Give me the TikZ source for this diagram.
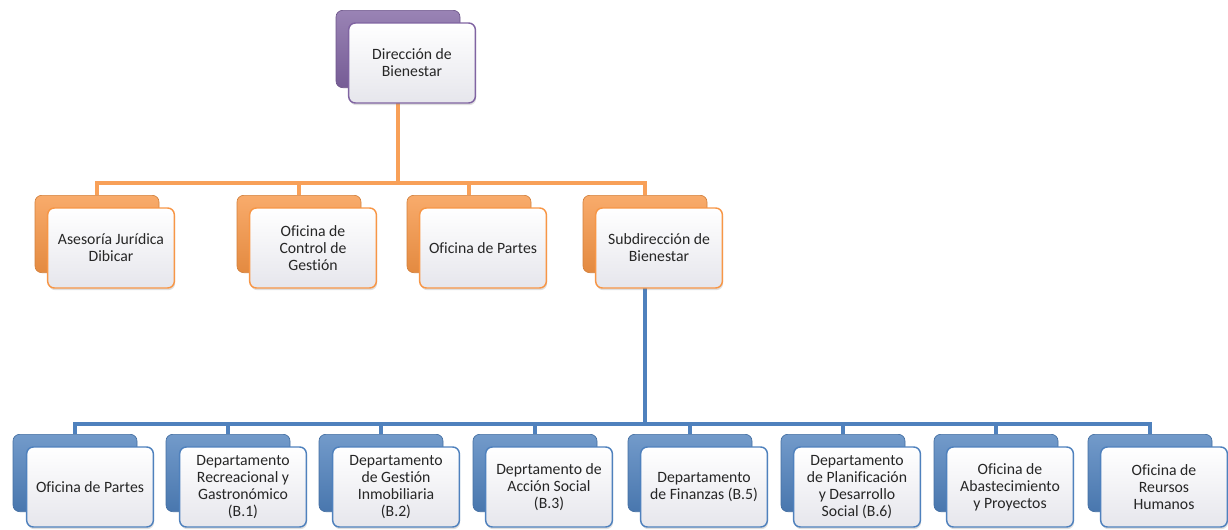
\documentclass[tikz,border=0pt]{standalone}
\usepackage{fontspec}
\setmainfont{Carlito}[Ligatures=NoCommon]
\usetikzlibrary{shadows,backgrounds}

\definecolor{morado}{HTML}{8064A2}
\definecolor{naranja}{HTML}{F79646}
\definecolor{azul}{HTML}{4F81BD}
\definecolor{grisclaro}{HTML}{E6E6EC}

\begin{document}
\begin{tikzpicture}[x=0.75pt,y=-0.75pt,
    atras/.style={rounded corners=5pt, minimum width=93pt, minimum height=58pt,
        draw=#1!85!black, line width=0.5pt, top color=#1!80!white, bottom color=#1!92!black},
    frente/.style={rounded corners=5pt, minimum width=95pt, minimum height=60pt,
        draw=#1, line width=1.1pt, top color=white, bottom color=grisclaro,
        align=center, inner sep=1pt, text=black!85,
        font=\fontsize{11.8}{12.8}\selectfont,
        drop shadow={opacity=0.25, shadow xshift=0.6pt, shadow yshift=-1.6pt}},
    lineaN/.style={naranja!90!white, line width=3.6pt},
    lineaA/.style={azul, line width=3.6pt}]

    \useasboundingbox (0,0) rectangle (1228,529);

    % nivel 1
    \node[atras=morado] (dirB) at (398,49) {};
    \node[frente=morado] (dirF) at (412,63) {Dirección de\\Bienestar};

    % nivel 2
    \node[atras=naranja] (aseB) at (97,234) {};
    \node[frente=naranja] (aseF) at (111,248) {Asesoría Jurídica\\Dibicar};
    \node[atras=naranja] (conB) at (299,234) {};
    \node[frente=naranja] (conF) at (313,248) {Oficina de\\Control de\\Gestión};
    \node[atras=naranja] (parB) at (469,234) {};
    \node[frente=naranja] (parF) at (483,248) {Oficina de Partes};
    \node[atras=naranja] (subB) at (645,234) {};
    \node[frente=naranja] (subF) at (659,248) {Subdirección de\\Bienestar};

    % nivel 3
    \node[atras=azul] (ofpB) at (75,473) {};
    \node[frente=azul] (ofpF) at (90,487) {Oficina de Partes};
    \node[atras=azul] (b1B) at (228,473) {};
    \node[frente=azul] (b1F) at (243,487) {Departamento\\Recreacional y\\Gastronómico\\(B.1)};
    \node[atras=azul] (b2B) at (381,473) {};
    \node[frente=azul] (b2F) at (396,487) {Departamento\\de Gestión\\Inmobiliaria\\(B.2)};
    \node[atras=azul] (b3B) at (535,473) {};
    \node[frente=azul] (b3F) at (549,487) {Deprtamento de\\Acción Social\\(B.3)};
    \node[atras=azul] (b5B) at (690,473) {};
    \node[frente=azul] (b5F) at (704,487) {Departamento\\de Finanzas (B.5)};
    \node[atras=azul] (b6B) at (843,473) {};
    \node[frente=azul] (b6F) at (857,487) {Departamento\\de Planificación\\y Desarrollo\\Social (B.6)};
    \node[atras=azul] (abaB) at (996,473) {};
    \node[frente=azul] (abaF) at (1010,487) {Oficina de\\Abastecimiento\\y Proyectos};
    \node[atras=azul] (rrhB) at (1150,473) {};
    \node[frente=azul] (rrhF) at (1164,487) {Oficina de\\Reursos\\Humanos};

    % conectores
    \coordinate (busN) at (0,183);
    \coordinate (busA) at (0,424);
    \begin{scope}[on background layer]
        \draw[lineaN] (dirB.south) -- (dirB.south |- busN) -| (aseB.north);
        \draw[lineaN] (dirB.south) -- (dirB.south |- busN) -| (conB.north);
        \draw[lineaN] (dirB.south) -- (dirB.south |- busN) -| (parB.north);
        \draw[lineaN] (dirB.south) -- (dirB.south |- busN) -| (subB.north);

        \draw[lineaA] (subB.south) -- (subB.south |- busA) -| (ofpB.north);
        \draw[lineaA] (subB.south) -- (subB.south |- busA) -| (b1B.north);
        \draw[lineaA] (subB.south) -- (subB.south |- busA) -| (b2B.north);
        \draw[lineaA] (subB.south) -- (subB.south |- busA) -| (b3B.north);
        \draw[lineaA] (subB.south) -- (subB.south |- busA) -| (b5B.north);
        \draw[lineaA] (subB.south) -- (subB.south |- busA) -| (b6B.north);
        \draw[lineaA] (subB.south) -- (subB.south |- busA) -| (abaB.north);
        \draw[lineaA] (subB.south) -- (subB.south |- busA) -| (rrhB.north);
    \end{scope}
\end{tikzpicture}
\end{document}
